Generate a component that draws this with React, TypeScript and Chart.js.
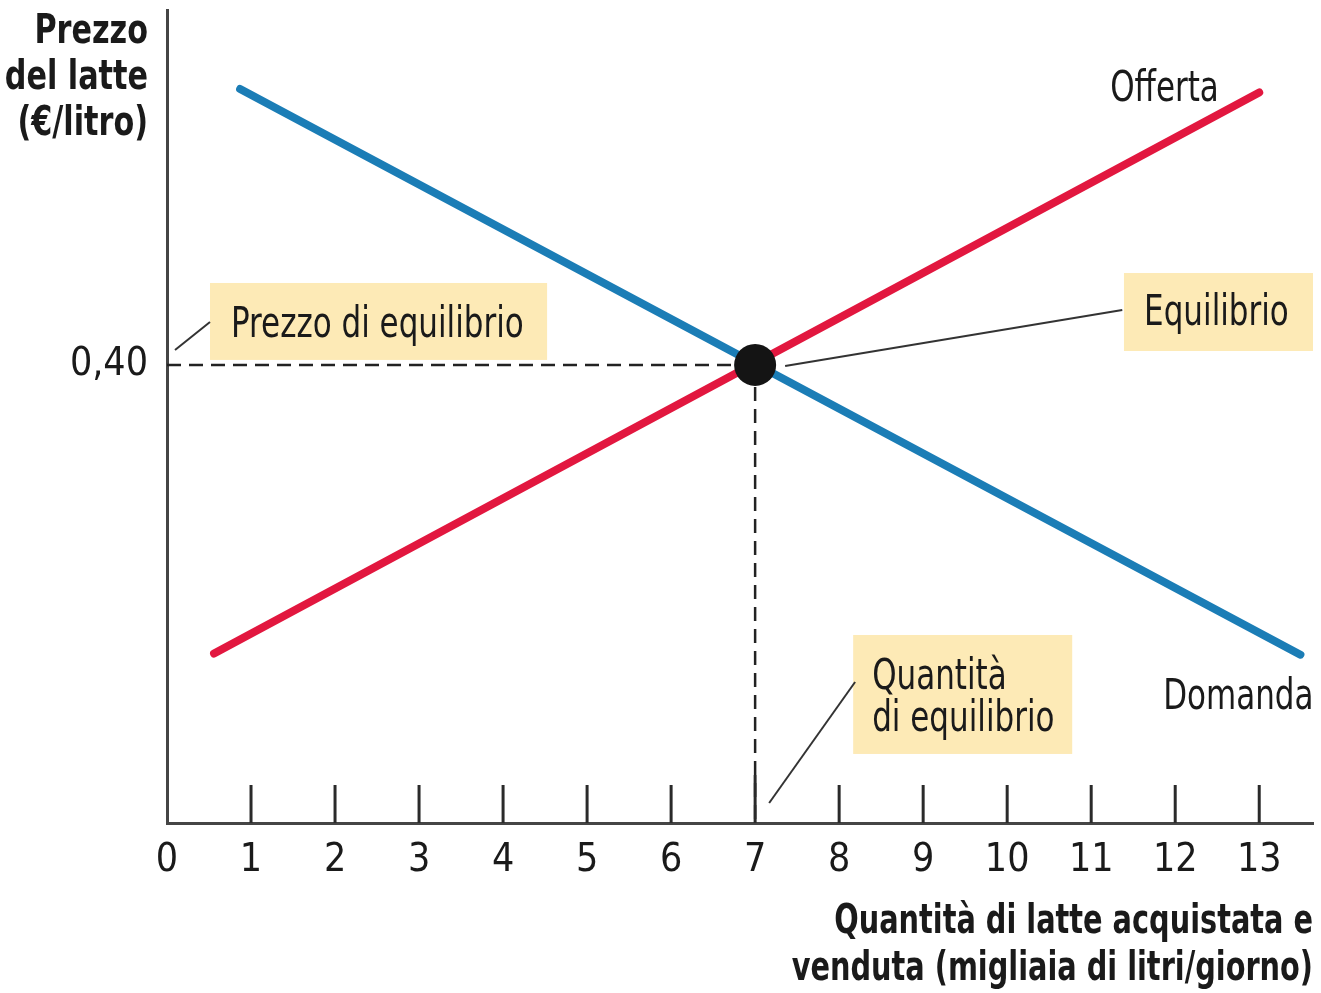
import React, { useEffect, useRef } from "react";
import { Chart, registerables } from "chart.js";

Chart.register(...registerables);

const FONT = "'Liberation Sans Narrow', 'DejaVu Sans Condensed', 'Arial Narrow', sans-serif";

// Data
const xTicks = [0, 1, 2, 3, 4, 5, 6, 7, 8, 9, 10, 11, 12, 13];
const yTicks = [0.4];
const yTickLabels = ["0,40"];
const demandX = [0.87, 13.49];
const demandY = [0.641, 0.147];
const supplyX = [0.56, 13.0];
const supplyY = [0.148, 0.638];
const eqX = 7;
const eqY = 0.4;

const xMax = 13.64;
const yMax = 0.71;

const BLUE = "#1b7db6";
const RED = "#e2173f";
const AXIS = "#454545";
const BOX = "#fdeab6";
const TEXT = "#1a1a1a";

const SX = 0.82;

const annotationPlugin = {
  id: "annotations",
  afterDatasetsDraw(chart: any) {
    const { ctx, scales } = chart;
    const xs = scales.x;
    const ys = scales.y;
    const px = (v: number) => xs.getPixelForValue(v);
    const py = (v: number) => ys.getPixelForValue(v);
    ctx.save();

    // inner tick marks
    ctx.strokeStyle = "#2a2a2a";
    ctx.lineWidth = 3;
    const base = py(0);
    xTicks.forEach((t) => {
      if (t === 0) return;
      const len = t === eqX ? 48 : 38;
      ctx.beginPath();
      ctx.moveTo(px(t), base);
      ctx.lineTo(px(t), base - len);
      ctx.stroke();
    });

    // boxes
    const box = (x1: number, x2: number, yTop: number, yBot: number) => {
      ctx.fillStyle = BOX;
      ctx.fillRect(px(x1), py(yTop), px(x2) - px(x1), py(yBot) - py(yTop));
    };
    box(0.512, 4.524, 0.4716, 0.4044);
    box(11.39, 13.64, 0.4803, 0.4122);
    box(8.167, 10.774, 0.1642, 0.0603);

    // leader lines
    const leader = (x1: number, y1: number, x2: number, y2: number) => {
      ctx.strokeStyle = "#333";
      ctx.lineWidth = 2;
      ctx.beginPath();
      ctx.moveTo(px(x1), py(y1));
      ctx.lineTo(px(x2), py(y2));
      ctx.stroke();
    };
    leader(0.512, 0.4376, 0.095, 0.4131);
    leader(11.37, 0.448, 7.357, 0.3991);
    leader(8.19, 0.1231, 7.167, 0.0175);

    const text = (s: string, x: number, y: number, align: "left" | "right", sx = SX) => {
      ctx.save();
      ctx.translate(x, y + 4);
      ctx.scale(sx, 1);
      ctx.textAlign = align;
      ctx.fillText(s, 0, 0);
      ctx.restore();
    };

    // texts
    ctx.fillStyle = TEXT;
    ctx.textBaseline = "middle";
    ctx.font = `42px ${FONT}`;
    text("Prezzo di equilibrio", px(0.762), py(0.4376), "left");
    text("Equilibrio", px(11.63), py(0.448), "left");
    text("Quantità", px(8.393), py(0.1301), "left");
    text("di equilibrio", px(8.393), py(0.0934), "left");
    text("Offerta", px(11.226), py(0.6437), "left");
    text("Domanda", px(11.857), py(0.1127), "left");

    // axis titles
    ctx.font = `bold 41px ${FONT}`;
    text("Prezzo", 148, 28, "right");
    text("del latte", 148, 74, "right");
    text("(€/litro)", 148, 120, "right");
    text("Quantità di latte acquistata e", xs.right, 918, "right", 0.78);
    text("venduta (migliaia di litri/giorno)", xs.right, 965, "right", 0.78);
    ctx.restore();
  },
};

export default function App() {
  const ref = useRef<HTMLCanvasElement>(null);
  useEffect(() => {
    document.body.style.margin = "0";
    const canvas = ref.current!;
    const chart = new Chart(canvas, {
      type: "scatter",
      data: {
        datasets: [
          {
            label: "Equilibrio",
            data: [{ x: eqX, y: eqY }],
            pointRadius: 21,
            pointBackgroundColor: "#141414",
            pointBorderWidth: 0,
            showLine: false,
            order: 0,
          },
          {
            label: "Domanda",
            data: demandX.map((x, i) => ({ x, y: demandY[i] })),
            showLine: true,
            borderColor: BLUE,
            borderWidth: 8,
            pointRadius: 0,
            borderCapStyle: "round",
            order: 2,
          },
          {
            label: "Offerta",
            data: supplyX.map((x, i) => ({ x, y: supplyY[i] })),
            showLine: true,
            borderColor: RED,
            borderWidth: 8,
            pointRadius: 0,
            borderCapStyle: "round",
            order: 1,
          },
          {
            label: "Prezzo eq",
            data: [
              { x: 0, y: eqY },
              { x: eqX, y: eqY },
            ],
            showLine: true,
            borderColor: "#222",
            borderWidth: 2.5,
            borderDash: [14, 8],
            pointRadius: 0,
            order: 3,
          },
          {
            label: "Quantità eq",
            data: [
              { x: eqX, y: eqY },
              { x: eqX, y: 0 },
            ],
            showLine: true,
            borderColor: "#222",
            borderWidth: 2.5,
            borderDash: [14, 8],
            pointRadius: 0,
            order: 3,
          },
        ],
      },
      options: {
        responsive: false,
        animation: false,
        layout: { autoPadding: false, padding: { top: 10, right: 8, left: 0, bottom: 0 } },
        plugins: { legend: { display: false }, tooltip: { enabled: false } },
        scales: {
          x: {
            type: "linear",
            min: 0,
            max: xMax,
            afterBuildTicks: (s: any) => {
              s.ticks = xTicks.map((v) => ({ value: v }));
            },
            afterFit: (s: any) => {
              s.height = 170;
              s.paddingLeft = 0;
              s.paddingRight = 0;
            },
            grid: { display: false, drawTicks: false },
            border: { display: true, color: AXIS, width: 3 },
            ticks: {
              padding: 14,
              color: TEXT,
              font: { family: FONT, size: 39 },
              maxRotation: 0,
              autoSkip: false,
            },
          },
          y: {
            type: "linear",
            min: 0,
            max: yMax,
            afterBuildTicks: (s: any) => {
              s.ticks = yTicks.map((v) => ({ value: v }));
            },
            afterFit: (s: any) => {
              s.width = 167;
              s.paddingTop = 0;
              s.paddingBottom = 0;
            },
            grid: { display: false, drawTicks: false },
            border: { display: true, color: AXIS, width: 3 },
            ticks: {
              padding: 19,
              color: TEXT,
              font: { family: FONT, size: 39 },
              callback: (v: any) => {
                const i = yTicks.indexOf(Number(v));
                return i >= 0 ? yTickLabels[i] : "";
              },
            },
          },
        },
      },
      plugins: [annotationPlugin],
    });
    return () => chart.destroy();
  }, []);
  return (
    <div style={{ width: 1321, height: 993, background: "#fff" }}>
      <canvas ref={ref} width={1321} height={993} style={{ display: "block" }} />
    </div>
  );
}
